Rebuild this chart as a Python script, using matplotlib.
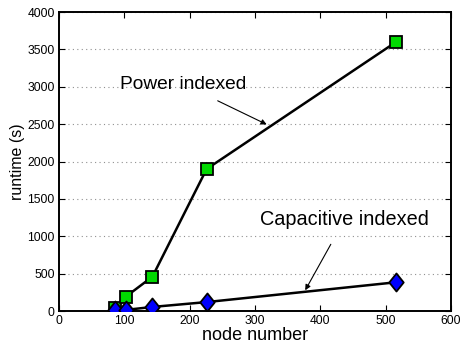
import matplotlib
matplotlib.use("Agg")
import matplotlib.pyplot as plt
from matplotlib.path import Path

node_number = [86, 102, 143, 226, 516]
power_runtime = [40, 190, 460, 1900, 3600]
capacitive_runtime = [10, 15, 55, 120, 385]
x_ticks = [0, 100, 200, 300, 400, 500, 600]
y_ticks = [0, 500, 1000, 1500, 2000, 2500, 3000, 3500, 4000]

plt.rcParams['font.family'] = ['Liberation Sans', 'DejaVu Sans']

diamond = Path([(0, 1), (0.8, 0), (0, -1), (-0.8, 0), (0, 1)],
               [Path.MOVETO, Path.LINETO, Path.LINETO, Path.LINETO, Path.CLOSEPOLY])

fig = plt.figure(figsize=(4.61, 3.46), dpi=100)
ax = fig.add_axes([0.128, 0.101, 0.85, 0.864])

ax.plot(node_number, power_runtime, color='black', lw=1.8, marker='s',
        markersize=8, markerfacecolor=(0, 0.85, 0), markeredgecolor='black',
        markeredgewidth=1.3, zorder=3)
ax.plot(node_number, capacitive_runtime, color='black', lw=1.8, marker=diamond,
        markersize=13, markerfacecolor=(0, 0, 1), markeredgecolor='black',
        markeredgewidth=1.3, zorder=4)

ax.set_xlim(0, 600)
ax.set_ylim(0, 4000)
ax.set_xticks(x_ticks)
ax.set_yticks(y_ticks)
ax.tick_params(direction='in', top=True, right=True, labelsize=8.7,
               length=4, width=0.8, pad=3)
ax.yaxis.grid(True, linestyle=(0, (1, 3)), color='#909090', lw=0.8)
for s in ax.spines.values():
    s.set_linewidth(1.4)

ax.set_xlabel('node number', fontsize=13, labelpad=0)
ax.set_ylabel('runtime (s)', fontsize=11.5, labelpad=2)

ax.annotate('Power indexed', xy=(318, 2497), xytext=(190, 3037),
            fontsize=13.8, ha='center', va='center',
            arrowprops=dict(arrowstyle='-|>', color='black', lw=0.8,
                            shrinkA=9, shrinkB=0, mutation_scale=8))
ax.annotate('Capacitive indexed', xy=(377, 278), xytext=(437, 1220),
            fontsize=14.3, ha='center', va='center',
            arrowprops=dict(arrowstyle='-|>', color='black', lw=0.8,
                            shrinkA=10, shrinkB=0, mutation_scale=8))

fig.savefig('out.png', dpi=100)
